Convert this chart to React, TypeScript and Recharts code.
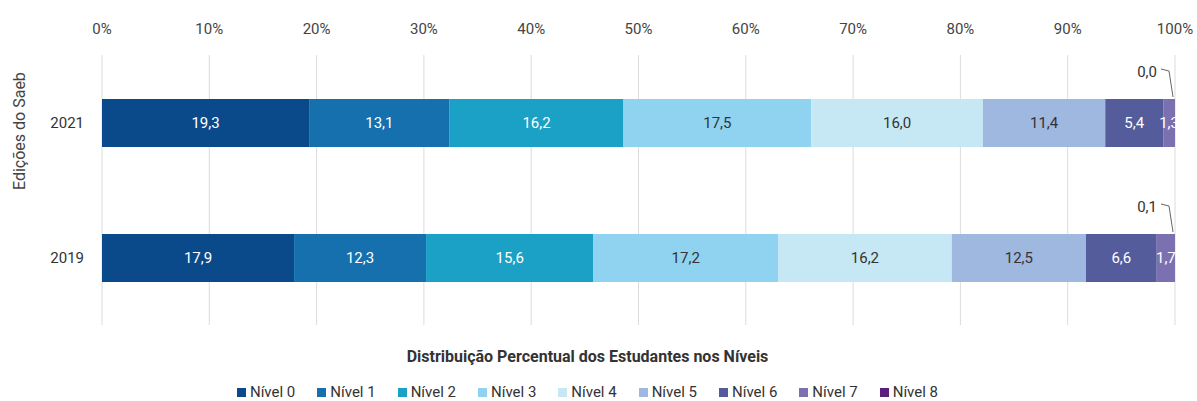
import { Bar, BarChart, CartesianGrid, LabelList, Legend, XAxis, YAxis } from "recharts";

const years = ["2021", "2019"];
const levels = ["Nível 0", "Nível 1", "Nível 2", "Nível 3", "Nível 4", "Nível 5", "Nível 6", "Nível 7", "Nível 8"];
const values2021 = [19.3, 13.1, 16.2, 17.5, 16.0, 11.4, 5.4, 1.3, 0.0];
const values2019 = [17.9, 12.3, 15.6, 17.2, 16.2, 12.5, 6.6, 1.7, 0.1];
const xTicks = [0, 10, 20, 30, 40, 50, 60, 70, 80, 90, 100];

const COLORS = ["#0b4a8a", "#1670ae", "#1ba0c6", "#8fd3f1", "#c6e8f4", "#9eb8df", "#545c9c", "#7b70b0", "#5b1f7b"];
const LABEL_COLORS = ["#ffffff", "#ffffff", "#ffffff", "#333333", "#333333", "#333333", "#ffffff", "#ffffff", "#333333"];

const FONT = "Roboto, 'Noto Sans', sans-serif";

const data = years.map((year, i) => {
  const row: Record<string, string | number> = { year };
  const vals = i === 0 ? values2021 : values2019;
  levels.forEach((lvl, j) => {
    row[`n${j}`] = vals[j];
  });
  return row;
});

const fmt = (v: number) => v.toFixed(1).replace(".", ",");

const PLOT_RIGHT = 1175;

// Nível 8 is tiny, so its value sits above the bar end with a leader line.
// Drawn from the Nível 7 bar because the Nível 8 segment falls past the 100% edge.
const OutsideLabel = (props: any) => {
  const vb = props.viewBox || {};
  const y = props.y ?? vb.y;
  const value = props.value;
  if (y == null || isNaN(Number(y))) return null;
  const right = PLOT_RIGHT - 2;
  return (
    <g>
      <text x={right - 16} y={y - 22} textAnchor="end" fontSize={15} fill="#333" fontFamily={FONT}>
        {fmt(Number(value))}
      </text>
      <polyline
        points={`${right - 12},${y - 30} ${right - 4},${y - 28} ${right},${y - 2}`}
        fill="none"
        stroke="#666"
        strokeWidth={1}
      />
    </g>
  );
};

const renderLegend = () => (
  <div style={{ fontFamily: FONT, color: "#333", textAlign: "center", paddingTop: 22 }}>
    <div style={{ fontWeight: 700, fontSize: 16, lineHeight: "20px", marginBottom: 16 }}>
      Distribuição Percentual dos Estudantes nos Níveis
    </div>
    <div style={{ display: "flex", justifyContent: "center", gap: 22, fontSize: 15, lineHeight: "18px" }}>
      {levels.map((lvl, i) => (
        <span key={lvl} style={{ display: "inline-flex", alignItems: "center" }}>
          <span style={{ width: 9, height: 9, background: COLORS[i], display: "inline-block", marginRight: 4 }} />
          {lvl}
        </span>
      ))}
    </div>
  </div>
);

export default function App() {
  return (
    <div style={{ position: "absolute", left: 0, top: 0, width: 1197, height: 401, background: "#fff" }}>
      <BarChart
        width={1197}
        height={401}
        data={data}
        layout="vertical"
        barCategoryGap={0}
        margin={{ top: 15, right: 22, left: 0, bottom: 6 }}
      >
        <CartesianGrid horizontal={false} stroke="#dcdcdc" />
        <XAxis
          type="number"
          orientation="top"
          domain={[0, 100]}
          allowDataOverflow
          ticks={xTicks}
          tickFormatter={(v) => `${v}%`}
          axisLine={false}
          tickLine={false}
          height={40}
          tickMargin={15}
          tick={{ fill: "#444", fontSize: 15, fontFamily: FONT }}
        />
        <YAxis
          type="category"
          dataKey="year"
          width={102}
          axisLine={false}
          tickLine={false}
          tickMargin={12}
          tick={{ fill: "#333", fontSize: 15, fontFamily: FONT }}
          label={{
            value: "Edições do Saeb",
            angle: -90,
            position: "insideLeft",
            dx: 14,
            dy: 0,
            fill: "#444",
            fontSize: 16,
            fontFamily: FONT,
          }}
        />
        <Legend verticalAlign="bottom" height={70} content={renderLegend} />
        {levels.map((lvl, i) => (
          <Bar
            key={lvl}
            dataKey={`n${i}`}
            name={lvl}
            stackId="a"
            fill={COLORS[i]}
            barSize={48}
            isAnimationActive={false}
          >
            {i < 8 && (
              <LabelList
                dataKey={`n${i}`}
                position="center"
                formatter={(v: any) => fmt(Number(v))}
                fill={LABEL_COLORS[i]}
                fontSize={15}
                fontFamily={FONT}
              />
            )}
            {i === 7 && <LabelList dataKey="n8" content={(p: any) => <OutsideLabel {...p} />} />}
          </Bar>
        ))}
      </BarChart>
    </div>
  );
}
